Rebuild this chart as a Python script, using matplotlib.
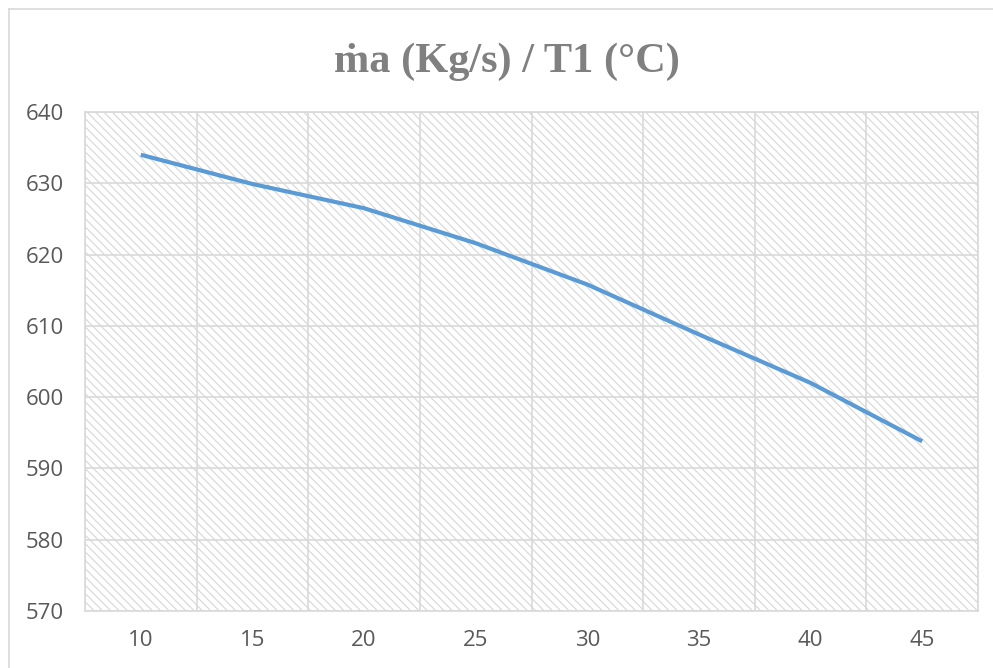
import matplotlib
matplotlib.use("Agg")
import matplotlib.pyplot as plt
from matplotlib.lines import Line2D

# caudal de aire vs temperatura T1
ma = [10, 15, 20, 25, 30, 35, 40, 45]
t1 = [634.0, 629.9, 626.5, 621.6, 615.8, 608.8, 602.0, 593.8]
yticks = [570, 580, 590, 600, 610, 620, 630, 640]

grey = '#d9d9d9'
plt.rcParams['hatch.color'] = '#d6d6d6'
plt.rcParams['hatch.linewidth'] = 0.8
plt.rcParams['font.family'] = ['Open Sans', 'DejaVu Sans']

fig = plt.figure(figsize=(9.93, 6.68), dpi=100)
ax = fig.add_axes([85 / 993, 1 - 611 / 668, (978 - 85) / 993, (611 - 112) / 668])

# fondo rayado del area de trazado
ax.patch.set_facecolor('white')
ax.patch.set_hatch('\\\\\\\\')
ax.patch.set_edgecolor('#d6d6d6')
ax.patch.set_linewidth(0)

ax.plot(ma, t1, color='#5B9BD5', linewidth=3, solid_capstyle='butt', zorder=3)

ax.set_xlim(7.5, 47.5)
ax.set_ylim(570, 640)
ax.set_xticks(ma)
ax.set_yticks(yticks)
ax.set_xticks([7.5 + 5 * i for i in range(9)], minor=True)
ax.grid(False)
ax.grid(True, which='minor', axis='x', color=grey, linewidth=1.2)
ax.grid(True, which='major', axis='y', color=grey, linewidth=1.2)
ax.tick_params(axis='both', which='both', length=0, labelsize=16, labelcolor='#595959')
ax.tick_params(axis='y', pad=15)
ax.tick_params(axis='x', pad=14)
for s in ax.spines.values():
    s.set_color(grey)
    s.set_linewidth(1.2)

fig.text(0.511, 1 - 62 / 668, 'ṁa (Kg/s) / T1 (°C)', ha='center', va='center',
         fontsize=30.5, fontweight='bold', color='#808080',
         family=['Liberation Serif', 'DejaVu Serif'])

# marco exterior del grafico
fig.add_artist(Line2D([8.5 / 993, 8.5 / 993], [0, 1 - 8.5 / 668], color=grey, linewidth=1.2))
fig.add_artist(Line2D([8.5 / 993, 1], [1 - 8.5 / 668, 1 - 8.5 / 668], color=grey, linewidth=1.2))

fig.savefig('out.png', dpi=100)
